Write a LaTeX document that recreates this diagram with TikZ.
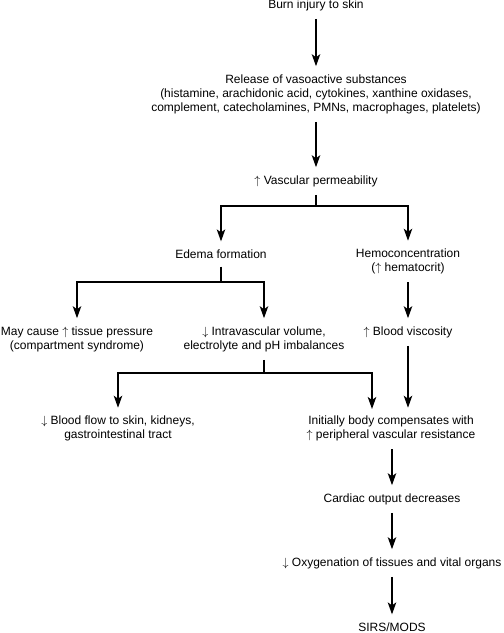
\documentclass[tikz,border=0pt]{standalone}
\usepackage{fontspec}
\setmainfont{Liberation Sans}
\usetikzlibrary{arrows.meta}
\newcommand{\up}{$\uparrow$}
\newcommand{\dn}{$\downarrow$}
\begin{document}
\begin{tikzpicture}[x=1pt,y=-1pt,
  txt/.style={align=center,inner xsep=0pt,inner ysep=8pt,font=\fontsize{12}{14}\selectfont},
  ln/.style={line width=1.5pt},
  arr/.style={line width=1.5pt,-{Stealth[length=12pt,width=8.5pt,inset=3pt]}}]
\useasboundingbox (0,0) rectangle (504,633);
\node[txt] (burn) at (316,5) {Burn injury to skin};
\node[txt] (rel) at (316,94) {Release of vasoactive substances\\(histamine, arachidonic acid, cytokines, xanthine oxidases,\\complement, catecholamines, PMNs, macrophages, platelets)};
\node[txt] (vp) at (316,181) {\up\ Vascular permeability};
\node[txt] (edema) at (221,254) {Edema formation};
\node[txt] (hemo) at (408,261.5) {Hemoconcentration\\(\up\ hematocrit)};
\node[txt] (may) at (77,339) {May cause \up\ tissue pressure\\(compartment syndrome)};
\node[txt] (intra) at (264,339) {\dn\ Intravascular volume,\\electrolyte and pH imbalances};
\node[txt] (visc) at (408,332) {\up\ Blood viscosity};
\node[txt] (flow) at (118,428.5) {\dn\ Blood flow to skin, kidneys,\\gastrointestinal tract};
\node[txt] (init) at (391,428.5) {Initially body compensates with\\\up\ peripheral vascular resistance};
\node[txt] (card) at (392,499) {Cardiac output decreases};
\node[txt] (oxy) at (392,563) {\dn\ Oxygenation of tissues and vital organs};
\node[txt] (sirs) at (392,627) {SIRS/MODS};
\coordinate (j1) at (316,206);
\coordinate (j2) at (221,282);
\coordinate (j3) at (264,373);
\coordinate (initin) at (372,409);
\draw[arr] (burn) -- (rel);
\draw[arr] (rel) -- (vp);
\draw[ln] (vp.south) -- (j1);
\draw[arr] (j1) -| (edema.north);
\draw[arr] (j1) -| (hemo.north);
\draw[ln] (edema.south) -- (j2);
\draw[arr] (j2) -| (may.north);
\draw[arr] (j2) -| (intra.north);
\draw[arr] (hemo.south) -- (visc.north);
\draw[ln] (intra.south) -- (j3);
\draw[arr] (j3) -| (flow.north);
\draw[arr] (j3) -| (initin);
\draw[arr] (visc.south) -- (visc.south |- init.north);
\draw[arr] (init.south -| card.north) -- (card.north);
\draw[arr] (card) -- (oxy);
\draw[arr] (oxy) -- (sirs);
\end{tikzpicture}
\end{document}
